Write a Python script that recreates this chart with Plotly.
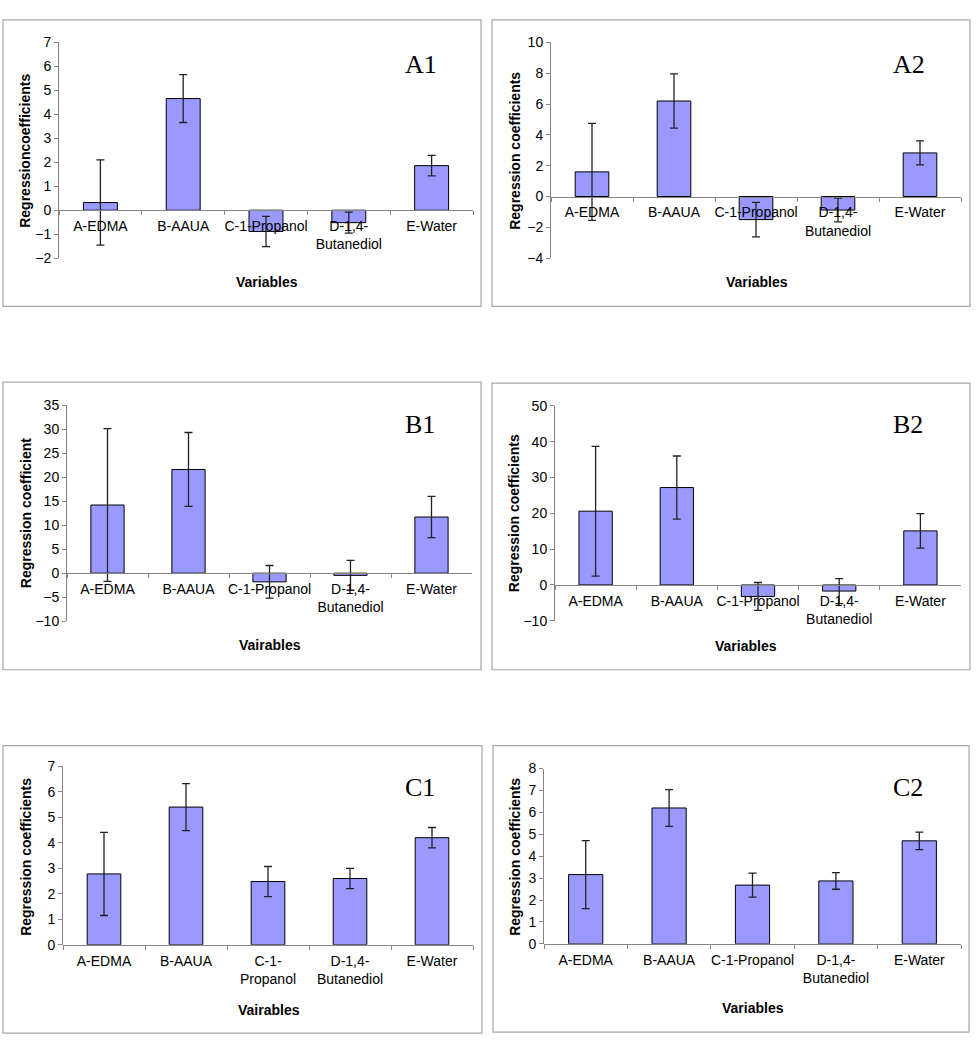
import plotly.graph_objects as go

# ---------------- data ----------------
categories_A = ["A-EDMA", "B-AAUA", "C-1-Propanol", "D-1,4-<br>Butanediol", "E-Water"]
categories_C1 = ["A-EDMA", "B-AAUA", "C-1-<br>Propanol", "D-1,4-<br>Butanediol", "E-Water"]
categories_C2 = ["A-EDMA", "B-AAUA", "C-1-Propanol", "D-1,4-<br>Butanediol", "E-Water"]

a1_values = [0.32, 4.66, -0.89, -0.52, 1.86]
a1_errors = [1.78, 1.0, 0.63, 0.44, 0.43]
a2_values = [1.6, 6.2, -1.5, -0.88, 2.83]
a2_errors = [3.15, 1.76, 1.12, 0.77, 0.78]
b1_values = [14.2, 21.6, -1.8, -0.45, 11.7]
b1_errors = [15.9, 7.7, 3.4, 3.1, 4.3]
b2_values = [20.6, 27.2, -3.2, -1.7, 15.1]
b2_errors = [18.1, 8.8, 3.9, 3.5, 4.8]
c1_values = [2.78, 5.4, 2.48, 2.6, 4.2]
c1_errors = [1.63, 0.92, 0.59, 0.4, 0.4]
c2_values = [3.16, 6.2, 2.68, 2.87, 4.7]
c2_errors = [1.55, 0.84, 0.55, 0.38, 0.4]

y_ranges = [[-2, 7], [-4, 10], [-10, 35], [-10, 50], [0, 7], [0, 8]]
y_dticks = [1, 2, 5, 10, 1, 1]
panel_labels = ["A1", "A2", "B1", "B2", "C1", "C2"]
y_titles = ["Regressioncoefficients", "Regression coefficients", "Regression coefficient",
            "Regression coefficients", "Regression coefficients", "Regression coefficients"]
x_titles = ["Variables", "Variables", "Vairables", "Variables", "Vairables", "Variables"]

# ---------------- layout geometry (pixels) ----------------
W, H = 976, 1050
plot_px = [  # left, right, top, bottom
    (59, 473, 35, 254),
    (551, 961, 35, 254),
    (67, 472, 403.3, 622.7),
    (555, 961, 404, 622.3),
    (63, 473, 770, 951.3),
    (544, 961, 772.3, 950.3),
]
box_px = [
    (3, 12, 481, 303),
    (492, 12, 970, 303),
    (3, 380, 481, 672),
    (492, 381, 970, 672),
    (3, 749, 482, 1041),
    (493, 749, 969, 1040),
]
ytitle_px = [(25, 145), (515, 145), (26, 513), (514, 513), (26, 862), (515, 862)]
xtitle_px = [(267, 278), (757, 278), (270, 647), (746, 648), (269, 1017), (753, 1015)]
label_px = [(421, 57), (909, 57), (420, 423), (908, 423), (420, 792), (908, 792)]


def fx(px):
    return px / W


def fy(py):
    return 1 - py / H


series = [
    (categories_A, a1_values, a1_errors),
    (categories_A, a2_values, a2_errors),
    (categories_A, b1_values, b1_errors),
    (categories_A, b2_values, b2_errors),
    (categories_C1, c1_values, c1_errors),
    (categories_C2, c2_values, c2_errors),
]

FONT = "Liberation Sans, Arial, sans-serif"
AXIS_COLOR = "#868686"
FS = 14

fig = go.Figure()
layout = dict(
    width=W, height=H, autosize=False,
    margin=dict(l=0, r=0, t=0, b=0),
    paper_bgcolor="white", plot_bgcolor="rgba(0,0,0,0)",
    showlegend=False,
    font=dict(family=FONT, size=FS, color="black"),
    shapes=[], annotations=[],
)

for i, (cats, vals, errs) in enumerate(series):
    n = i + 1
    xa = "x" if n == 1 else f"x{n}"
    ya = "y" if n == 1 else f"y{n}"
    fig.add_trace(go.Bar(
        x=cats, y=vals, xaxis=xa, yaxis=ya, width=0.41,
        marker=dict(color="#9999FF", line=dict(color="black", width=1)),
        error_y=dict(type="data", array=errs, visible=True, color="#222222",
                     thickness=1.3, width=4),
    ))
    left, right, top, bottom = plot_px[i]
    ymin, ymax = y_ranges[i]
    d0, d1 = fy(bottom), fy(top)
    zero_pos = d0 + (0 - ymin) / (ymax - ymin) * (d1 - d0)
    layout["xaxis" if n == 1 else f"xaxis{n}"] = dict(
        domain=[fx(left), fx(right)], anchor="free", position=zero_pos,
        type="category", range=[-0.5, 4.5], showline=True, linecolor=AXIS_COLOR,
        linewidth=1, ticks="outside", tickson="boundaries", ticklen=4,
        tickcolor=AXIS_COLOR, showgrid=False, zeroline=False, tickangle=0,
        tickfont=dict(family=FONT, size=FS, color="black"), ticklabelstandoff=3,
        fixedrange=True,
    )
    layout["yaxis" if n == 1 else f"yaxis{n}"] = dict(
        domain=[d0, d1], anchor=xa, range=[ymin, ymax], dtick=y_dticks[i],
        showline=True, linecolor=AXIS_COLOR, linewidth=1, ticks="outside",
        ticklen=4, tickcolor=AXIS_COLOR, showgrid=False, zeroline=False,
        tickfont=dict(family=FONT, size=FS, color="black"), fixedrange=True,
    )
    bx0, by0, bx1, by1 = box_px[i]
    layout["shapes"].append(dict(
        type="rect", xref="paper", yref="paper",
        x0=fx(bx0), x1=fx(bx1), y0=fy(by1), y1=fy(by0),
        line=dict(color="#a6a6a6", width=1.2), fillcolor="rgba(0,0,0,0)", layer="below",
    ))
    tx, ty = ytitle_px[i]
    layout["annotations"].append(dict(
        text=f"<b>{y_titles[i]}</b>", xref="paper", yref="paper",
        x=fx(tx), y=fy(ty), xanchor="center", yanchor="middle", textangle=-90,
        showarrow=False, font=dict(family=FONT, size=FS, color="black"),
    ))
    tx, ty = xtitle_px[i]
    layout["annotations"].append(dict(
        text=f"<b>{x_titles[i]}</b>", xref="paper", yref="paper",
        x=fx(tx), y=fy(ty), xanchor="center", yanchor="middle",
        showarrow=False, font=dict(family=FONT, size=FS, color="black"),
    ))
    tx, ty = label_px[i]
    layout["annotations"].append(dict(
        text=panel_labels[i], xref="paper", yref="paper",
        x=fx(tx), y=fy(ty), xanchor="center", yanchor="middle",
        showarrow=False, font=dict(family="Liberation Serif, Times New Roman, serif",
                                   size=26, color="black"),
    ))

fig.update_layout(**layout)
fig.write_html("out.html", post_script="document.body.style.margin='0';",
               config={"displayModeBar": False})
